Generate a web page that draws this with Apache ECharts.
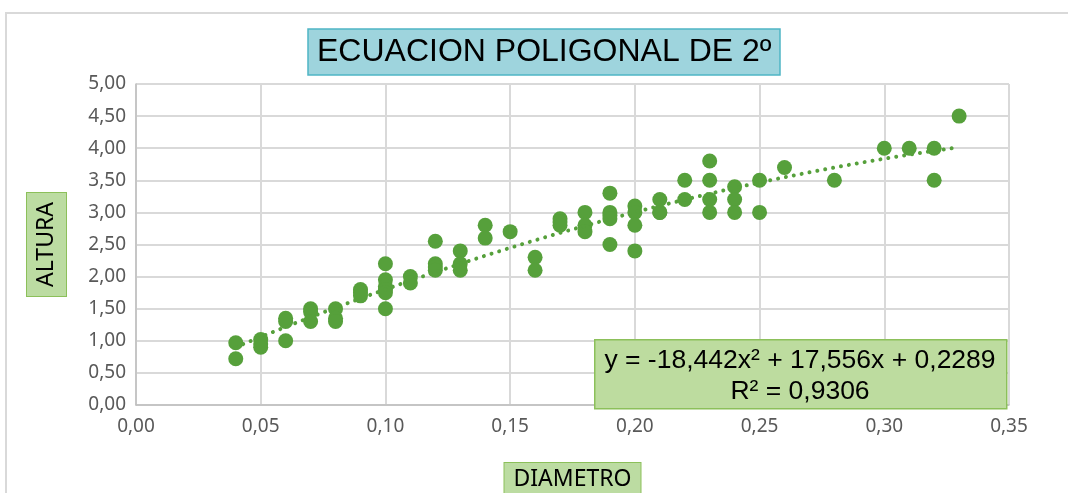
<!DOCTYPE html>
<html>
<head>
<meta charset="utf-8">
<script src="https://cdn.jsdelivr.net/npm/echarts@6/dist/echarts.min.js"></script>
<style>
  html, body { margin: 0; padding: 0; background: #fff; }
  #chart { width: 1068px; height: 493px; }
</style>
</head>
<body>
<div id="chart"></div>
<script>
// datos
const diametro = [
  0.04, 0.04,
  0.05, 0.05, 0.05,
  0.06, 0.06, 0.06,
  0.07, 0.07, 0.07,
  0.08, 0.08, 0.08,
  0.09, 0.09, 0.09,
  0.10, 0.10, 0.10, 0.10, 0.10, 0.10,
  0.11, 0.11,
  0.12, 0.12, 0.12, 0.12,
  0.13, 0.13, 0.13,
  0.14, 0.14,
  0.15,
  0.16, 0.16,
  0.17, 0.17, 0.17,
  0.18, 0.18, 0.18,
  0.19, 0.19, 0.19, 0.19, 0.19,
  0.20, 0.20, 0.20, 0.20,
  0.21, 0.21, 0.21,
  0.22, 0.22,
  0.23, 0.23, 0.23, 0.23,
  0.24, 0.24, 0.24,
  0.25, 0.25,
  0.26,
  0.28,
  0.30,
  0.31,
  0.32, 0.32,
  0.33
];
const altura = [
  0.97, 0.72,
  1.02, 0.95, 0.90,
  1.35, 1.30, 1.00,
  1.50, 1.45, 1.30,
  1.50, 1.35, 1.30,
  1.80, 1.75, 1.70,
  2.20, 1.95, 1.85, 1.80, 1.75, 1.50,
  2.00, 1.90,
  2.55, 2.20, 2.15, 2.10,
  2.40, 2.20, 2.10,
  2.80, 2.60,
  2.70,
  2.30, 2.10,
  2.90, 2.85, 2.80,
  3.00, 2.80, 2.70,
  3.30, 3.00, 2.95, 2.90, 2.50,
  3.10, 3.00, 2.80, 2.40,
  3.20, 3.00, 3.00,
  3.50, 3.20,
  3.80, 3.50, 3.20, 3.00,
  3.40, 3.20, 3.00,
  3.50, 3.00,
  3.70,
  3.50,
  4.00,
  4.00,
  4.00, 3.50,
  4.50
];

// tendencia polinomica (coeficientes de la ecuacion del grafico)
const coefTendencia = [-18.442, 17.556, 0.2289];
const rangoTendencia = [0.04, 0.33];

const ticksX = [0, 0.35, 0.05];
const ticksY = [0, 5, 0.5];

const verde = '#56a03b';
const fmt = v => v.toFixed(2).replace('.', ',');

const puntos = diametro.map((d, i) => [d, altura[i]]);
const tendencia = [];
for (let k = 0; k <= 58; k++) {
  const x = rangoTendencia[0] + (rangoTendencia[1] - rangoTendencia[0]) * k / 58;
  tendencia.push([x, coefTendencia[0] * x * x + coefTendencia[1] * x + coefTendencia[2]]);
}

const myChart = echarts.init(document.getElementById('chart'));

const option = {
  animation: false,
  title: {
    text: 'ECUACION POLIGONAL DE 2º',
    left: 308,
    top: 29,
    padding: [6, 9, 5, 9],
    backgroundColor: '#9ed4dd',
    borderColor: '#4fb5c5',
    borderWidth: 1.5,
    textStyle: {
      fontFamily: 'Liberation Sans',
      fontWeight: 'normal',
      fontSize: 32,
      color: '#000',
      lineHeight: 35
    }
  },
  grid: {
    left: 136,
    right: 59,
    top: 84,
    bottom: 88,
    outerBoundsMode: 'none'
  },
  xAxis: {
    type: 'value',
    min: ticksX[0],
    max: ticksX[1],
    interval: ticksX[2],
    name: 'DIAMETRO',
    nameLocation: 'middle',
    nameGap: 58,
    nameTextStyle: {
      fontFamily: 'Noto Sans',
      fontSize: 23,
      color: '#000',
      backgroundColor: '#bcdca2',
      borderColor: '#8cc05a',
      borderWidth: 1,
      padding: [5, 9, 8, 9]
    },
    axisLine: { lineStyle: { color: '#bfbfbf', width: 1.5 } },
    axisTick: { show: false },
    axisLabel: {
      formatter: fmt,
      fontFamily: 'Noto Sans',
      fontSize: 19,
      color: '#595959',
      margin: 12
    },
    splitLine: { lineStyle: { color: '#d9d9d9', width: 2 } }
  },
  yAxis: {
    type: 'value',
    min: ticksY[0],
    max: ticksY[1],
    interval: ticksY[2],
    name: 'ALTURA',
    nameLocation: 'middle',
    nameGap: 70,
    nameRotate: 90,
    nameTextStyle: {
      fontFamily: 'Noto Sans',
      fontSize: 23,
      color: '#000',
      backgroundColor: '#bcdca2',
      borderColor: '#8cc05a',
      borderWidth: 1,
      padding: [8, 9, 8, 9]
    },
    axisLine: { show: true, lineStyle: { color: '#bfbfbf', width: 1.5 } },
    axisTick: { show: false },
    axisLabel: {
      formatter: fmt,
      fontFamily: 'Noto Sans',
      fontSize: 19,
      color: '#595959',
      margin: 10
    },
    splitLine: { lineStyle: { color: '#d9d9d9', width: 2 } }
  },
  series: [
    {
      name: 'ALTURA',
      type: 'scatter',
      data: puntos,
      symbolSize: 15,
      itemStyle: { color: verde, opacity: 1 },
      z: 3
    },
    {
      name: 'Tendencia',
      type: 'line',
      data: tendencia,
      showSymbol: false,
      smooth: false,
      lineStyle: { color: verde, width: 4, type: [0.01, 8], cap: 'round' },
      z: 4
    }
  ],
  graphic: [
    {
      type: 'rect',
      silent: true,
      shape: { x: 6, y: 13, width: 1100, height: 600 },
      style: { fill: 'none', stroke: '#d9d9d9', lineWidth: 2 },
      z: -1
    },
    {
      type: 'rect',
      silent: true,
      left: 594,
      top: 339,
      z: 100,
      shape: { x: 0, y: 0, width: 412, height: 69 },
      style: { fill: '#bddc9f', stroke: '#8cc05a', lineWidth: 1.5 }
    },
    {
      type: 'text',
      silent: true,
      z: 101,
      x: 800,
      y: 361,
      style: {
        text: 'y = -18,442x² + 17,556x + 0,2289',
        font: '26.5px "Liberation Sans"',
        fill: '#000',
        align: 'center',
        verticalAlign: 'middle'
      }
    },
    {
      type: 'text',
      silent: true,
      z: 101,
      x: 800,
      y: 392,
      style: {
        text: 'R² = 0,9306',
        font: '26.5px "Liberation Sans"',
        fill: '#000',
        align: 'center',
        verticalAlign: 'middle'
      }
    }
  ]
};

myChart.setOption(option);
</script>
</body>
</html>
